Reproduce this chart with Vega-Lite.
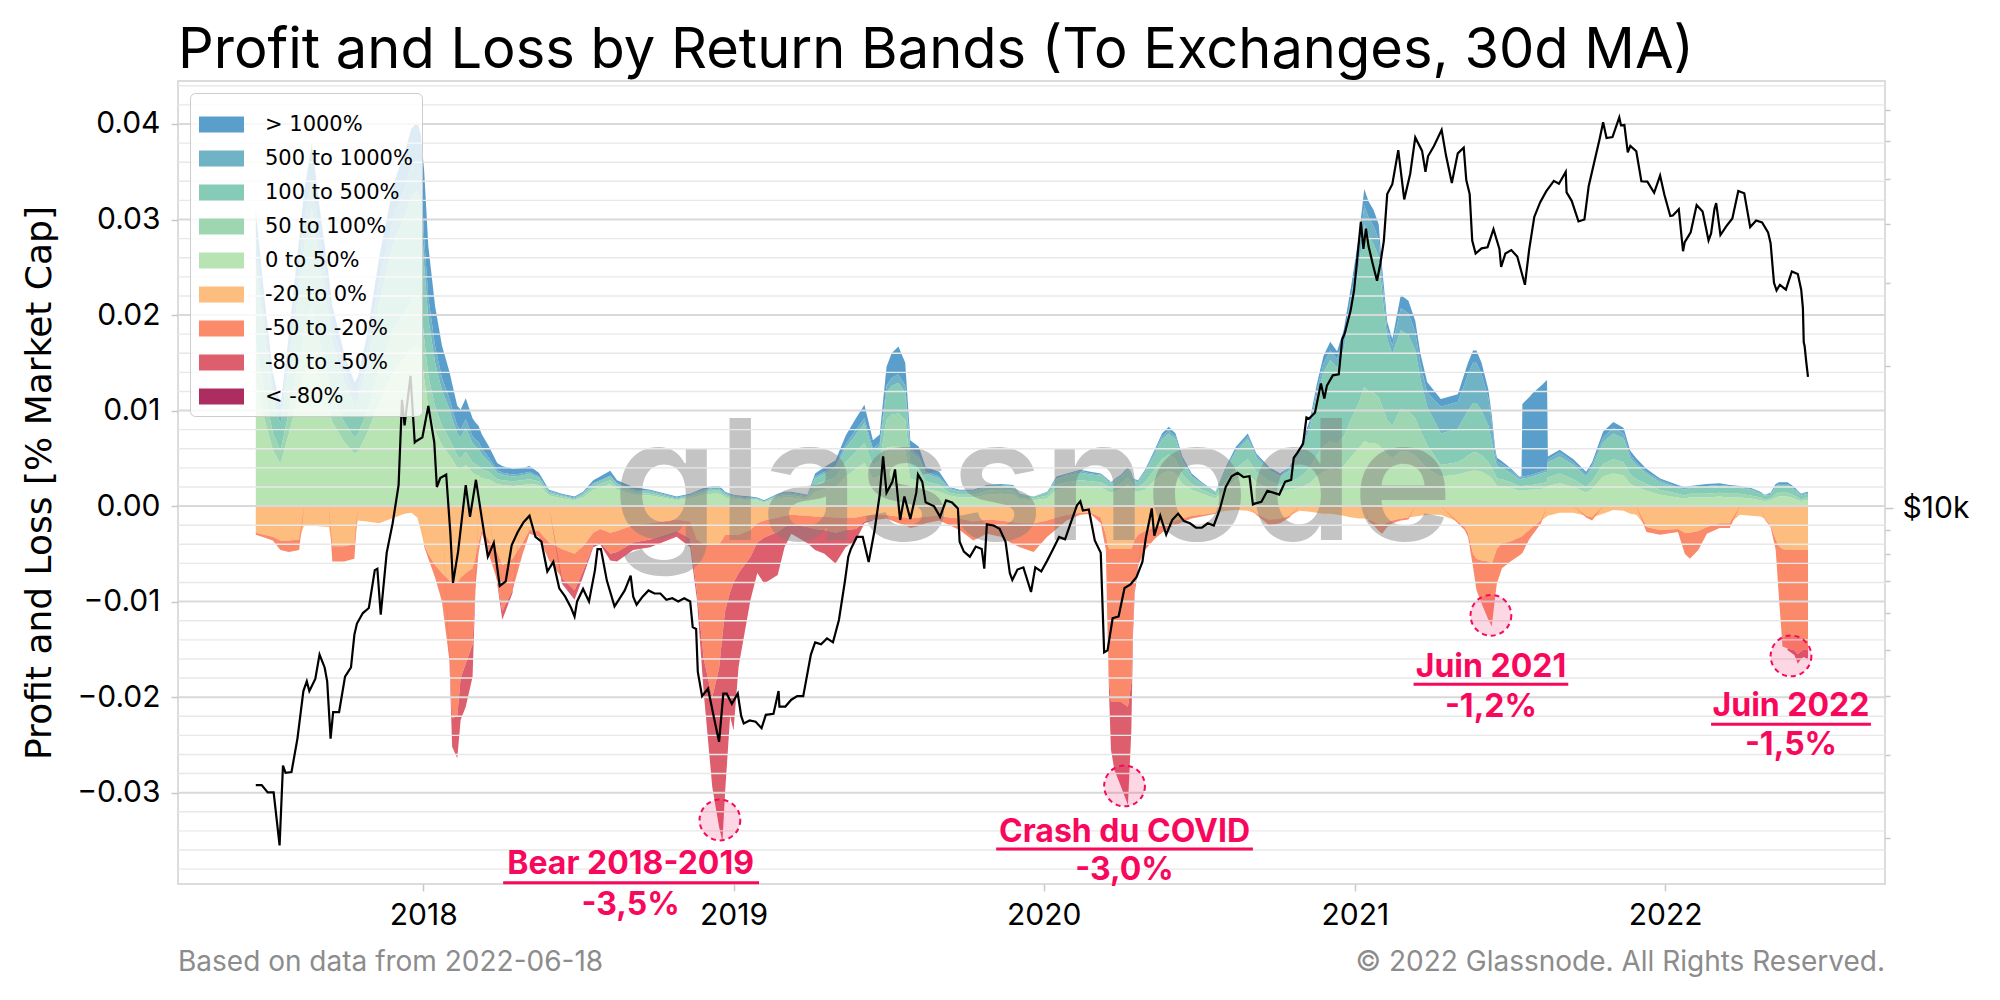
{
  "$schema": "https://vega.github.io/schema/vega-lite/v6.json",
  "width": 1707,
  "height": 803,
  "autosize": {"type": "none"},
  "padding": {"left": 178, "top": 81, "right": 115, "bottom": 116},
  "background": "#ffffff",
  "config": {
    "font": "Inter",
    "view": {"stroke": "#dcdcdc", "strokeWidth": 2},
    "axis": {"domain": false, "labelFont": "Inter", "labelFontSize": 30, "labelColor": "#000000", "tickColor": "#c8c8c8", "tickWidth": 1.5, "labelOverlap": false}
  },
  "title": {
    "text": "Profit and Loss by Return Bands (To Exchanges, 30d MA)",
    "anchor": "start",
    "frame": "group",
    "font": "Inter",
    "fontSize": 56,
    "fontWeight": 400,
    "color": "#000000",
    "baseline": "alphabetic",
    "offset": 14,
    "dy": 57
  },
  "datasets": {
    "bands": [
      {"d":"2017-06-18","p1":0.013,"p2":0.004,"p3":0.0084,"p4":0.0025,"p5":0.0031,"n1":-0.0028,"n2":-0.0002,"n3":0},
      {"d":"2017-06-28","p1":0.0092,"p2":0.0029,"p3":0.0059,"p4":0.0018,"p5":0.0022,"n1":-0.003,"n2":-0.0003,"n3":0},
      {"d":"2017-07-08","p1":0.0059,"p2":0.0018,"p3":0.0038,"p4":0.0011,"p5":0.0014,"n1":-0.0032,"n2":-0.0004,"n3":0},
      {"d":"2017-07-17","p1":0.0044,"p2":0.0014,"p3":0.0028,"p4":0.0008,"p5":0.0011,"n1":-0.0036,"n2":-0.001,"n3":0},
      {"d":"2017-07-27","p1":0.0076,"p2":0.0023,"p3":0.0049,"p4":0.0014,"p5":0.0018,"n1":-0.0036,"n2":-0.0012,"n3":0},
      {"d":"2017-08-08","p1":0.0118,"p2":0.0036,"p3":0.0076,"p4":0.0022,"p5":0.0028,"n1":-0.0035,"n2":-0.0011,"n3":0},
      {"d":"2017-08-14","p1":0.0139,"p2":0.0043,"p3":0.0089,"p4":0.0026,"p5":0.0033,"n1":-0.002,"n2":0,"n3":0},
      {"d":"2017-08-23","p1":0.016,"p2":0.0049,"p3":0.0103,"p4":0.003,"p5":0.0038,"n1":-0.002,"n2":0,"n3":0},
      {"d":"2017-08-31","p1":0.0134,"p2":0.0042,"p3":0.0086,"p4":0.0026,"p5":0.0032,"n1":-0.0021,"n2":0,"n3":0},
      {"d":"2017-09-12","p1":0.0101,"p2":0.0031,"p3":0.0065,"p4":0.0019,"p5":0.0024,"n1":-0.0022,"n2":0,"n3":0},
      {"d":"2017-09-16","p1":0.0088,"p2":0.0027,"p3":0.0057,"p4":0.0017,"p5":0.0021,"n1":-0.0042,"n2":-0.0016,"n3":0},
      {"d":"2017-09-30","p1":0.0067,"p2":0.0021,"p3":0.0043,"p4":0.0013,"p5":0.0016,"n1":-0.0042,"n2":-0.0016,"n3":0},
      {"d":"2017-10-12","p1":0.0055,"p2":0.0017,"p3":0.0035,"p4":0.001,"p5":0.0013,"n1":-0.004,"n2":-0.0015,"n3":0},
      {"d":"2017-10-16","p1":0.0057,"p2":0.0018,"p3":0.0036,"p4":0.0011,"p5":0.0013,"n1":-0.0015,"n2":0,"n3":0},
      {"d":"2017-10-27","p1":0.0076,"p2":0.0023,"p3":0.0049,"p4":0.0014,"p5":0.0018,"n1":-0.0016,"n2":0,"n3":0},
      {"d":"2017-11-10","p1":0.0109,"p2":0.0034,"p3":0.007,"p4":0.0021,"p5":0.0026,"n1":-0.0018,"n2":0,"n3":0},
      {"d":"2017-11-28","p1":0.0143,"p2":0.0044,"p3":0.0092,"p4":0.0027,"p5":0.0034,"n1":-0.0012,"n2":0,"n3":0},
      {"d":"2017-12-10","p1":0.0155,"p2":0.0048,"p3":0.01,"p4":0.003,"p5":0.0037,"n1":-0.0008,"n2":0,"n3":0},
      {"d":"2017-12-18","p1":0.0166,"p2":0.0051,"p3":0.0107,"p4":0.0032,"p5":0.0039,"n1":-0.0007,"n2":0,"n3":0},
      {"d":"2017-12-25","p1":0.0169,"p2":0.0052,"p3":0.0109,"p4":0.0032,"p5":0.004,"n1":-0.0012,"n2":0,"n3":0},
      {"d":"2017-12-29","p1":0.0164,"p2":0.0051,"p3":0.0105,"p4":0.0031,"p5":0.0039,"n1":-0.0025,"n2":0,"n3":0},
      {"d":"2018-01-02","p1":0.0134,"p2":0.0042,"p3":0.0077,"p4":0.0028,"p5":0.0071,"n1":-0.004,"n2":-0.0002,"n3":0},
      {"d":"2018-01-07","p1":0.0103,"p2":0.0033,"p3":0.006,"p4":0.0022,"p5":0.0054,"n1":-0.005,"n2":-0.0005,"n3":0},
      {"d":"2018-01-15","p1":0.0079,"p2":0.0025,"p3":0.0046,"p4":0.0017,"p5":0.0042,"n1":-0.0062,"n2":-0.0013,"n3":0},
      {"d":"2018-01-23","p1":0.0064,"p2":0.002,"p3":0.0037,"p4":0.0013,"p5":0.0034,"n1":-0.007,"n2":-0.003,"n3":0},
      {"d":"2018-02-01","p1":0.0053,"p2":0.0017,"p3":0.0031,"p4":0.0011,"p5":0.0028,"n1":-0.0078,"n2":-0.0085,"n3":-0.0005},
      {"d":"2018-02-04","p1":0.0049,"p2":0.0015,"p3":0.0028,"p4":0.001,"p5":0.0026,"n1":-0.008,"n2":-0.0142,"n3":-0.003},
      {"d":"2018-02-10","p1":0.004,"p2":0.0013,"p3":0.0023,"p4":0.0008,"p5":0.0021,"n1":-0.008,"n2":-0.014,"n3":-0.0044},
      {"d":"2018-02-14","p1":0.0038,"p2":0.0012,"p3":0.0022,"p4":0.0008,"p5":0.0021,"n1":-0.0075,"n2":-0.0105,"n3":-0.0044},
      {"d":"2018-02-20","p1":0.0043,"p2":0.0014,"p3":0.0025,"p4":0.0009,"p5":0.0022,"n1":-0.007,"n2":-0.0095,"n3":-0.0045},
      {"d":"2018-02-28","p1":0.0035,"p2":0.0011,"p3":0.002,"p4":0.0007,"p5":0.0019,"n1":-0.0065,"n2":-0.008,"n3":-0.0034},
      {"d":"2018-03-03","p1":0.0033,"p2":0.0011,"p3":0.0019,"p4":0.0007,"p5":0.0018,"n1":-0.0055,"n2":-0.0035,"n3":-0.0008},
      {"d":"2018-03-07","p1":0.0032,"p2":0.001,"p3":0.0018,"p4":0.0007,"p5":0.0017,"n1":-0.0038,"n2":-0.0012,"n3":0},
      {"d":"2018-03-11","p1":0.0029,"p2":0.0009,"p3":0.0016,"p4":0.0006,"p5":0.0015,"n1":-0.0025,"n2":-0.0004,"n3":0},
      {"d":"2018-03-19","p1":0.0028,"p2":0.0008,"p3":0.0011,"p4":0.0004,"p5":0.0012,"n1":-0.0035,"n2":-0.0015,"n3":0},
      {"d":"2018-03-29","p1":0.0023,"p2":0.0005,"p3":0.0007,"p4":0.0003,"p5":0.0007,"n1":-0.0048,"n2":-0.003,"n3":-0.0003},
      {"d":"2018-04-04","p1":0.0022,"p2":0.0005,"p3":0.0006,"p4":0.0002,"p5":0.0007,"n1":-0.0062,"n2":-0.0048,"n3":-0.0009},
      {"d":"2018-04-16","p1":0.0021,"p2":0.0005,"p3":0.0005,"p4":0.0002,"p5":0.0006,"n1":-0.0055,"n2":-0.0033,"n3":-0.0003},
      {"d":"2018-04-28","p1":0.0022,"p2":0.0005,"p3":0.0005,"p4":0.0002,"p5":0.0006,"n1":-0.0038,"n2":-0.0012,"n3":0},
      {"d":"2018-05-06","p1":0.0023,"p2":0.0005,"p3":0.0006,"p4":0.0002,"p5":0.0006,"n1":-0.0025,"n2":-0.0004,"n3":0},
      {"d":"2018-05-17","p1":0.0022,"p2":0.0004,"p3":0.0004,"p4":0.0001,"p5":0.0004,"n1":-0.0026,"n2":-0.0006,"n3":0},
      {"d":"2018-05-29","p1":0.0011,"p2":0.0002,"p3":0.0002,"p4":0.0001,"p5":0.0001,"n1":-0.0038,"n2":-0.0019,"n3":0},
      {"d":"2018-06-13","p1":0.0008,"p2":0.0002,"p3":0.0001,"p4":0.0001,"p5":0.0001,"n1":-0.0045,"n2":-0.003,"n3":-0.0006},
      {"d":"2018-06-28","p1":0.0006,"p2":0.0001,"p3":0.0001,"p4":0.0001,"p5":0.0001,"n1":-0.005,"n2":-0.0038,"n3":-0.001},
      {"d":"2018-07-08","p1":0.0009,"p2":0.0002,"p3":0.0002,"p4":0.0001,"p5":0.0001,"n1":-0.0042,"n2":-0.0026,"n3":-0.0006},
      {"d":"2018-07-20","p1":0.0017,"p2":0.0003,"p3":0.0003,"p4":0.0001,"p5":0.0003,"n1":-0.0028,"n2":-0.0013,"n3":-0.0002},
      {"d":"2018-07-28","p1":0.0019,"p2":0.0004,"p3":0.0003,"p4":0.0001,"p5":0.0004,"n1":-0.0024,"n2":-0.0014,"n3":-0.0002},
      {"d":"2018-08-09","p1":0.0023,"p2":0.0004,"p3":0.0004,"p4":0.0001,"p5":0.0005,"n1":-0.0028,"n2":-0.0022,"n3":-0.0007},
      {"d":"2018-08-17","p1":0.0017,"p2":0.0003,"p3":0.0003,"p4":0.0001,"p5":0.0003,"n1":-0.0026,"n2":-0.0022,"n3":-0.001},
      {"d":"2018-09-05","p1":0.0012,"p2":0.0002,"p3":0.0002,"p4":0.0001,"p5":0.0003,"n1":-0.002,"n2":-0.0018,"n3":-0.0008},
      {"d":"2018-09-25","p1":0.0011,"p2":0.0002,"p3":0.0002,"p4":0.0001,"p5":0.0001,"n1":-0.0018,"n2":-0.0017,"n3":-0.0008},
      {"d":"2018-10-26","p1":0.0006,"p2":0.0001,"p3":0.0001,"p4":0.0001,"p5":0.0001,"n1":-0.0014,"n2":-0.0012,"n3":-0.0006},
      {"d":"2018-11-11","p1":0.0008,"p2":0.0002,"p3":0.0001,"p4":0.0001,"p5":0.0001,"n1":-0.0016,"n2":-0.0018,"n3":-0.0009},
      {"d":"2018-11-19","p1":0.001,"p2":0.0002,"p3":0.0002,"p4":0.0001,"p5":0.0001,"n1":-0.0035,"n2":-0.0055,"n3":-0.0008},
      {"d":"2018-11-27","p1":0.0012,"p2":0.0002,"p3":0.0002,"p4":0.0001,"p5":0.0002,"n1":-0.004,"n2":-0.012,"n3":-0.0036},
      {"d":"2018-12-07","p1":0.0013,"p2":0.0003,"p3":0.0002,"p4":0.0001,"p5":0.0002,"n1":-0.004,"n2":-0.016,"n3":-0.0094},
      {"d":"2018-12-15","p1":0.0013,"p2":0.0003,"p3":0.0002,"p4":0.0001,"p5":0.0002,"n1":-0.004,"n2":-0.013,"n3":-0.0166},
      {"d":"2018-12-19","p1":0.0011,"p2":0.0002,"p3":0.0002,"p4":0.0001,"p5":0.0002,"n1":-0.0035,"n2":-0.01,"n3":-0.0216},
      {"d":"2018-12-22","p1":0.0009,"p2":0.0002,"p3":0.0002,"p4":0.0001,"p5":0.0001,"n1":-0.003,"n2":-0.008,"n3":-0.0191},
      {"d":"2018-12-28","p1":0.0008,"p2":0.0002,"p3":0.0001,"p4":0.0001,"p5":0.0001,"n1":-0.003,"n2":-0.006,"n3":-0.013},
      {"d":"2019-01-01","p1":0.0007,"p2":0.0002,"p3":0.0001,"p4":0.0001,"p5":0.0001,"n1":-0.003,"n2":-0.005,"n3":-0.0155},
      {"d":"2019-01-07","p1":0.0007,"p2":0.0001,"p3":0.0001,"p4":0.0001,"p5":0.0001,"n1":-0.003,"n2":-0.004,"n3":-0.0098},
      {"d":"2019-01-21","p1":0.0006,"p2":0.0001,"p3":0.0001,"p4":0.0001,"p5":0.0001,"n1":-0.0025,"n2":-0.0028,"n3":-0.0045},
      {"d":"2019-01-29","p1":0.0006,"p2":0.0001,"p3":0.0001,"p4":0,"p5":0.0001,"n1":-0.0018,"n2":-0.002,"n3":-0.0032},
      {"d":"2019-02-06","p1":0.0004,"p2":0.0001,"p3":0,"p4":0,"p5":0.0001,"n1":-0.0015,"n2":-0.0018,"n3":-0.0048},
      {"d":"2019-02-22","p1":0.0008,"p2":0.0002,"p3":0.0001,"p4":0.0001,"p5":0.0001,"n1":-0.0012,"n2":-0.0015,"n3":-0.0045},
      {"d":"2019-03-02","p1":0.0009,"p2":0.0002,"p3":0.0002,"p4":0.0001,"p5":0.0001,"n1":-0.001,"n2":-0.0012,"n3":-0.0021},
      {"d":"2019-03-10","p1":0.0009,"p2":0.0002,"p3":0.0002,"p4":0.0001,"p5":0.0001,"n1":-0.0009,"n2":-0.001,"n3":-0.001},
      {"d":"2019-03-29","p1":0.0007,"p2":0.0002,"p3":0.0001,"p4":0.0001,"p5":0.0001,"n1":-0.001,"n2":-0.0012,"n3":-0.0017},
      {"d":"2019-04-07","p1":0.0015,"p2":0.0007,"p3":0.0007,"p4":0.0002,"p5":0.0003,"n1":-0.0011,"n2":-0.0013,"n3":-0.0022},
      {"d":"2019-04-18","p1":0.0018,"p2":0.0008,"p3":0.0008,"p4":0.0002,"p5":0.0005,"n1":-0.0011,"n2":-0.0014,"n3":-0.0025},
      {"d":"2019-05-01","p1":0.002,"p2":0.001,"p3":0.001,"p4":0.0002,"p5":0.0006,"n1":-0.0012,"n2":-0.0016,"n3":-0.0032},
      {"d":"2019-05-13","p1":0.0031,"p2":0.0015,"p3":0.0015,"p4":0.0004,"p5":0.0009,"n1":-0.0012,"n2":-0.0013,"n3":-0.0018},
      {"d":"2019-05-25","p1":0.0039,"p2":0.0018,"p3":0.0018,"p4":0.0005,"p5":0.0012,"n1":-0.0012,"n2":-0.0012,"n3":-0.0012},
      {"d":"2019-06-04","p1":0.0045,"p2":0.0021,"p3":0.0021,"p4":0.0005,"p5":0.0014,"n1":-0.001,"n2":-0.0006,"n3":-0.0002},
      {"d":"2019-06-14","p1":0.0029,"p2":0.0014,"p3":0.0014,"p4":0.0003,"p5":0.0009,"n1":-0.0009,"n2":-0.0005,"n3":-0.0001},
      {"d":"2019-06-22","p1":0.0032,"p2":0.0015,"p3":0.0015,"p4":0.0004,"p5":0.0009,"n1":-0.0009,"n2":-0.0005,"n3":0},
      {"d":"2019-06-30","p1":0.0061,"p2":0.0029,"p3":0.0029,"p4":0.0007,"p5":0.002,"n1":-0.0009,"n2":-0.0004,"n3":0},
      {"d":"2019-07-06","p1":0.0062,"p2":0.0034,"p3":0.003,"p4":0.0008,"p5":0.0026,"n1":-0.001,"n2":-0.0005,"n3":0},
      {"d":"2019-07-14","p1":0.0062,"p2":0.0035,"p3":0.0032,"p4":0.0009,"p5":0.0029,"n1":-0.0011,"n2":-0.0007,"n3":0},
      {"d":"2019-07-22","p1":0.0058,"p2":0.0032,"p3":0.0029,"p4":0.0007,"p5":0.0024,"n1":-0.0012,"n2":-0.0008,"n3":0},
      {"d":"2019-07-28","p1":0.0029,"p2":0.0014,"p3":0.0014,"p4":0.0003,"p5":0.0009,"n1":-0.0013,"n2":-0.001,"n3":0},
      {"d":"2019-08-07","p1":0.0026,"p2":0.0012,"p3":0.0012,"p4":0.0003,"p5":0.0009,"n1":-0.0012,"n2":-0.0009,"n3":0},
      {"d":"2019-08-15","p1":0.0018,"p2":0.0008,"p3":0.0008,"p4":0.0002,"p5":0.0005,"n1":-0.0011,"n2":-0.0007,"n3":0},
      {"d":"2019-08-31","p1":0.0015,"p2":0.0007,"p3":0.0007,"p4":0.0002,"p5":0.0005,"n1":-0.001,"n2":-0.0005,"n3":0},
      {"d":"2019-09-12","p1":0.0011,"p2":0.0003,"p3":0.0004,"p4":0.0001,"p5":0.0001,"n1":-0.0012,"n2":-0.0008,"n3":0},
      {"d":"2019-09-24","p1":0.0009,"p2":0.0003,"p3":0.0003,"p4":0.0001,"p5":0.0001,"n1":-0.0013,"n2":-0.0012,"n3":0},
      {"d":"2019-10-10","p1":0.0009,"p2":0.0003,"p3":0.0003,"p4":0.0001,"p5":0.0001,"n1":-0.0016,"n2":-0.002,"n3":0},
      {"d":"2019-10-26","p1":0.0012,"p2":0.0004,"p3":0.0004,"p4":0.0001,"p5":0.0001,"n1":-0.0014,"n2":-0.0015,"n3":0},
      {"d":"2019-11-11","p1":0.0013,"p2":0.0004,"p3":0.0004,"p4":0.0001,"p5":0.0001,"n1":-0.0015,"n2":-0.0017,"n3":0},
      {"d":"2019-11-26","p1":0.0012,"p2":0.0004,"p3":0.0004,"p4":0.0001,"p5":0.0001,"n1":-0.0017,"n2":-0.0023,"n3":0},
      {"d":"2019-12-04","p1":0.0007,"p2":0.0002,"p3":0.0003,"p4":0.0001,"p5":0,"n1":-0.0018,"n2":-0.0025,"n3":0},
      {"d":"2019-12-20","p1":0.0006,"p2":0.0002,"p3":0.0002,"p4":0,"p5":0,"n1":-0.0018,"n2":-0.003,"n3":0},
      {"d":"2020-01-05","p1":0.0008,"p2":0.0003,"p3":0.0003,"p4":0.0001,"p5":0,"n1":-0.0015,"n2":-0.0017,"n3":0},
      {"d":"2020-01-16","p1":0.0017,"p2":0.0005,"p3":0.0006,"p4":0.0001,"p5":0.0002,"n1":-0.0012,"n2":-0.0012,"n3":0},
      {"d":"2020-01-28","p1":0.0019,"p2":0.0006,"p3":0.0007,"p4":0.0001,"p5":0.0001,"n1":-0.0009,"n2":-0.0006,"n3":0},
      {"d":"2020-02-13","p1":0.0021,"p2":0.0006,"p3":0.0008,"p4":0.0002,"p5":0.0001,"n1":-0.0007,"n2":-0.0002,"n3":0},
      {"d":"2020-02-25","p1":0.002,"p2":0.0006,"p3":0.0007,"p4":0.0001,"p5":0.0002,"n1":-0.0007,"n2":-0.0001,"n3":0},
      {"d":"2020-03-08","p1":0.0019,"p2":0.0006,"p3":0.0007,"p4":0.0001,"p5":0.0001,"n1":-0.0012,"n2":-0.0006,"n3":0},
      {"d":"2020-03-14","p1":0.0017,"p2":0.0005,"p3":0.0006,"p4":0.0001,"p5":0.0001,"n1":-0.003,"n2":-0.0016,"n3":0},
      {"d":"2020-03-16","p1":0.0015,"p2":0.0005,"p3":0.0006,"p4":0.0001,"p5":0.0001,"n1":-0.004,"n2":-0.009,"n3":-0.0003},
      {"d":"2020-03-18","p1":0.0015,"p2":0.0005,"p3":0.0005,"p4":0.0001,"p5":0.0001,"n1":-0.0045,"n2":-0.014,"n3":-0.0018},
      {"d":"2020-03-20","p1":0.0014,"p2":0.0004,"p3":0.0005,"p4":0.0001,"p5":0.0001,"n1":-0.0045,"n2":-0.016,"n3":-0.005},
      {"d":"2020-03-24","p1":0.0015,"p2":0.0005,"p3":0.0006,"p4":0.0001,"p5":0.0001,"n1":-0.0045,"n2":-0.016,"n3":-0.0071},
      {"d":"2020-04-01","p1":0.0018,"p2":0.0006,"p3":0.0007,"p4":0.0001,"p5":0.0001,"n1":-0.0045,"n2":-0.016,"n3":-0.0089},
      {"d":"2020-04-09","p1":0.0023,"p2":0.0007,"p3":0.0008,"p4":0.0002,"p5":0.0001,"n1":-0.0045,"n2":-0.0165,"n3":-0.0103},
      {"d":"2020-04-13","p1":0.0019,"p2":0.0006,"p3":0.0007,"p4":0.0001,"p5":0.0002,"n1":-0.0045,"n2":-0.014,"n3":-0.005},
      {"d":"2020-04-15","p1":0.0017,"p2":0.0005,"p3":0.0006,"p4":0.0001,"p5":0.0001,"n1":-0.004,"n2":-0.008,"n3":-0.0013},
      {"d":"2020-04-17","p1":0.0015,"p2":0.0005,"p3":0.0006,"p4":0.0001,"p5":0.0001,"n1":-0.0035,"n2":-0.005,"n3":-0.0006},
      {"d":"2020-04-21","p1":0.0015,"p2":0.0005,"p3":0.0005,"p4":0.0001,"p5":0.0001,"n1":-0.003,"n2":-0.0032,"n3":-0.0002},
      {"d":"2020-04-29","p1":0.0017,"p2":0.0008,"p3":0.001,"p4":0.0002,"p5":0.0001,"n1":-0.0026,"n2":-0.002,"n3":0},
      {"d":"2020-05-11","p1":0.0027,"p2":0.0012,"p3":0.0016,"p4":0.0003,"p5":0.0002,"n1":-0.0022,"n2":-0.0012,"n3":0},
      {"d":"2020-05-19","p1":0.0034,"p2":0.0015,"p3":0.0021,"p4":0.0003,"p5":0.0003,"n1":-0.002,"n2":-0.0008,"n3":0},
      {"d":"2020-05-27","p1":0.0037,"p2":0.0017,"p3":0.0022,"p4":0.0003,"p5":0.0004,"n1":-0.0017,"n2":-0.0006,"n3":0},
      {"d":"2020-06-04","p1":0.0034,"p2":0.0015,"p3":0.0021,"p4":0.0003,"p5":0.0003,"n1":-0.0015,"n2":-0.0005,"n3":0},
      {"d":"2020-06-12","p1":0.0023,"p2":0.001,"p3":0.0014,"p4":0.0002,"p5":0.0003,"n1":-0.0013,"n2":-0.0004,"n3":0},
      {"d":"2020-06-23","p1":0.0017,"p2":0.0006,"p3":0.0008,"p4":0.0001,"p5":0.0002,"n1":-0.001,"n2":-0.0003,"n3":0},
      {"d":"2020-07-05","p1":0.0013,"p2":0.0004,"p3":0.0006,"p4":0.0001,"p5":0.0001,"n1":-0.0009,"n2":-0.0002,"n3":0},
      {"d":"2020-07-21","p1":0.0008,"p2":0.0003,"p3":0.0003,"p4":0.0001,"p5":0,"n1":-0.0007,"n2":-0.0001,"n3":0},
      {"d":"2020-08-02","p1":0.0018,"p2":0.0008,"p3":0.0011,"p4":0.0002,"p5":0.0002,"n1":-0.0005,"n2":0,"n3":0},
      {"d":"2020-08-14","p1":0.0028,"p2":0.0012,"p3":0.0017,"p4":0.0002,"p5":0.0003,"n1":-0.0004,"n2":0,"n3":0},
      {"d":"2020-08-28","p1":0.0034,"p2":0.0015,"p3":0.0021,"p4":0.0003,"p5":0.0003,"n1":-0.0005,"n2":0,"n3":0},
      {"d":"2020-09-07","p1":0.0025,"p2":0.0011,"p3":0.0015,"p4":0.0002,"p5":0.0002,"n1":-0.0008,"n2":-0.0001,"n3":0},
      {"d":"2020-09-22","p1":0.0018,"p2":0.0008,"p3":0.0011,"p4":0.0002,"p5":0.0002,"n1":-0.0014,"n2":-0.0006,"n3":0},
      {"d":"2020-10-05","p1":0.0015,"p2":0.0007,"p3":0.0009,"p4":0.0001,"p5":0.0002,"n1":-0.0013,"n2":-0.0005,"n3":0},
      {"d":"2020-10-16","p1":0.0017,"p2":0.0008,"p3":0.0012,"p4":0.0002,"p5":0.0002,"n1":-0.001,"n2":-0.0002,"n3":0},
      {"d":"2020-10-28","p1":0.0019,"p2":0.0011,"p3":0.0024,"p4":0.0003,"p5":0.0003,"n1":-0.0005,"n2":0,"n3":0},
      {"d":"2020-11-09","p1":0.0024,"p2":0.0016,"p3":0.0041,"p4":0.0005,"p5":0.0004,"n1":-0.0006,"n2":0,"n3":0},
      {"d":"2020-11-17","p1":0.0031,"p2":0.0022,"p3":0.0061,"p4":0.0007,"p5":0.0006,"n1":-0.0007,"n2":0,"n3":0},
      {"d":"2020-11-25","p1":0.0036,"p2":0.0027,"p3":0.0077,"p4":0.0009,"p5":0.0008,"n1":-0.0008,"n2":0,"n3":0},
      {"d":"2020-12-03","p1":0.0039,"p2":0.0029,"p3":0.0085,"p4":0.001,"p5":0.0009,"n1":-0.0008,"n2":0,"n3":0},
      {"d":"2020-12-11","p1":0.0037,"p2":0.0028,"p3":0.008,"p4":0.0009,"p5":0.0008,"n1":-0.0009,"n2":0,"n3":0},
      {"d":"2020-12-19","p1":0.0042,"p2":0.0031,"p3":0.0092,"p4":0.0011,"p5":0.0009,"n1":-0.001,"n2":0,"n3":0},
      {"d":"2020-12-28","p1":0.0052,"p2":0.004,"p3":0.0116,"p4":0.0014,"p5":0.0011,"n1":-0.0012,"n2":0,"n3":0},
      {"d":"2021-01-06","p1":0.0061,"p2":0.0048,"p3":0.0143,"p4":0.0017,"p5":0.0016,"n1":-0.0013,"n2":0,"n3":0},
      {"d":"2021-01-12","p1":0.0068,"p2":0.0057,"p3":0.017,"p4":0.002,"p5":0.0017,"n1":-0.0013,"n2":0,"n3":0},
      {"d":"2021-01-17","p1":0.0066,"p2":0.0054,"p3":0.0163,"p4":0.0019,"p5":0.0017,"n1":-0.0014,"n2":-0.0002,"n3":0},
      {"d":"2021-01-23","p1":0.0066,"p2":0.0053,"p3":0.0155,"p4":0.0019,"p5":0.0017,"n1":-0.0016,"n2":-0.0004,"n3":0},
      {"d":"2021-01-29","p1":0.0064,"p2":0.005,"p3":0.0147,"p4":0.0018,"p5":0.0016,"n1":-0.0019,"n2":-0.0007,"n3":0},
      {"d":"2021-02-02","p1":0.006,"p2":0.0044,"p3":0.0119,"p4":0.0015,"p5":0.0012,"n1":-0.002,"n2":-0.0009,"n3":0},
      {"d":"2021-02-08","p1":0.0054,"p2":0.0036,"p3":0.0085,"p4":0.0011,"p5":0.0007,"n1":-0.0017,"n2":-0.0005,"n3":0},
      {"d":"2021-02-14","p1":0.005,"p2":0.0034,"p3":0.0075,"p4":0.0009,"p5":0.0007,"n1":-0.0015,"n2":-0.0003,"n3":0},
      {"d":"2021-02-24","p1":0.0058,"p2":0.0044,"p3":0.0082,"p4":0.0023,"p5":0.0014,"n1":-0.0013,"n2":-0.0002,"n3":0},
      {"d":"2021-03-05","p1":0.0057,"p2":0.0042,"p3":0.008,"p4":0.0023,"p5":0.0013,"n1":-0.0012,"n2":-0.0002,"n3":0},
      {"d":"2021-03-13","p1":0.0053,"p2":0.0039,"p3":0.0071,"p4":0.0019,"p5":0.0012,"n1":-0.0011,"n2":0,"n3":0},
      {"d":"2021-03-19","p1":0.0047,"p2":0.0032,"p3":0.0054,"p4":0.0016,"p5":0.0011,"n1":-0.001,"n2":0,"n3":0},
      {"d":"2021-03-27","p1":0.0039,"p2":0.0025,"p3":0.004,"p4":0.0015,"p5":0.0011,"n1":-0.0009,"n2":0,"n3":0},
      {"d":"2021-04-12","p1":0.0031,"p2":0.0012,"p3":0.0033,"p4":0.0028,"p5":0.0008,"n1":-0.0009,"n2":0,"n3":0},
      {"d":"2021-05-02","p1":0.0033,"p2":0.0013,"p3":0.0035,"p4":0.0028,"p5":0.0008,"n1":-0.0016,"n2":-0.0002,"n3":0},
      {"d":"2021-05-10","p1":0.0035,"p2":0.0015,"p3":0.0044,"p4":0.0034,"p5":0.0011,"n1":-0.0022,"n2":-0.0003,"n3":0},
      {"d":"2021-05-14","p1":0.0036,"p2":0.0017,"p3":0.0047,"p4":0.0038,"p5":0.0012,"n1":-0.0028,"n2":-0.0004,"n3":0},
      {"d":"2021-05-20","p1":0.0037,"p2":0.0019,"p3":0.0052,"p4":0.0042,"p5":0.0013,"n1":-0.005,"n2":-0.0014,"n3":0},
      {"d":"2021-05-24","p1":0.0037,"p2":0.0019,"p3":0.0052,"p4":0.0042,"p5":0.0013,"n1":-0.0055,"n2":-0.0033,"n3":0},
      {"d":"2021-05-30","p1":0.0036,"p2":0.0017,"p3":0.0047,"p4":0.0038,"p5":0.0012,"n1":-0.0057,"n2":-0.0045,"n3":0},
      {"d":"2021-06-07","p1":0.0032,"p2":0.0014,"p3":0.0038,"p4":0.0029,"p5":0.0009,"n1":-0.0058,"n2":-0.0061,"n3":0},
      {"d":"2021-06-11","p1":0.0029,"p2":0.0011,"p3":0.0028,"p4":0.002,"p5":0.0007,"n1":-0.006,"n2":-0.0066,"n3":0},
      {"d":"2021-06-15","p1":0.0024,"p2":0.0009,"p3":0.0016,"p4":0.0007,"p5":0.0004,"n1":-0.005,"n2":-0.0045,"n3":0},
      {"d":"2021-06-17","p1":0.0021,"p2":0.0008,"p3":0.0013,"p4":0.0005,"p5":0.0004,"n1":-0.0045,"n2":-0.0036,"n3":0},
      {"d":"2021-06-23","p1":0.0021,"p2":0.0007,"p3":0.0012,"p4":0.0004,"p5":0.0003,"n1":-0.0039,"n2":-0.0026,"n3":0},
      {"d":"2021-07-03","p1":0.0019,"p2":0.0006,"p3":0.001,"p4":0.0003,"p5":0.0002,"n1":-0.0037,"n2":-0.0021,"n3":0},
      {"d":"2021-07-13","p1":0.0016,"p2":0.0005,"p3":0.0007,"p4":0.0002,"p5":0.0001,"n1":-0.0033,"n2":-0.0019,"n3":0},
      {"d":"2021-07-16","p1":0.0016,"p2":0.0005,"p3":0.0007,"p4":0.0002,"p5":0.0001,"n1":-0.0032,"n2":-0.0018,"n3":0},
      {"d":"2021-07-17","p1":0.0016,"p2":0.0005,"p3":0.0008,"p4":0.0002,"p5":0.0076,"n1":-0.0031,"n2":-0.0018,"n3":0},
      {"d":"2021-07-25","p1":0.0017,"p2":0.0005,"p3":0.0008,"p4":0.0002,"p5":0.0082,"n1":-0.0025,"n2":-0.001,"n3":0},
      {"d":"2021-07-29","p1":0.0017,"p2":0.0005,"p3":0.0009,"p4":0.0002,"p5":0.0085,"n1":-0.0022,"n2":-0.0008,"n3":0},
      {"d":"2021-08-08","p1":0.0018,"p2":0.0006,"p3":0.001,"p4":0.0002,"p5":0.009,"n1":-0.0015,"n2":-0.0003,"n3":0},
      {"d":"2021-08-15","p1":0.0019,"p2":0.0006,"p3":0.0011,"p4":0.0002,"p5":0.0094,"n1":-0.0011,"n2":0,"n3":0},
      {"d":"2021-08-16","p1":0.0021,"p2":0.0009,"p3":0.0016,"p4":0.0003,"p5":0.0003,"n1":-0.001,"n2":0,"n3":0},
      {"d":"2021-08-30","p1":0.0024,"p2":0.001,"p3":0.0018,"p4":0.0004,"p5":0.0003,"n1":-0.0007,"n2":0,"n3":0},
      {"d":"2021-09-15","p1":0.002,"p2":0.0008,"p3":0.0015,"p4":0.0003,"p5":0.0003,"n1":-0.0007,"n2":0,"n3":0},
      {"d":"2021-09-30","p1":0.0014,"p2":0.0006,"p3":0.0011,"p4":0.0002,"p5":0.0003,"n1":-0.001,"n2":-0.0002,"n3":0},
      {"d":"2021-10-07","p1":0.0018,"p2":0.0008,"p3":0.0014,"p4":0.0003,"p5":0.0003,"n1":-0.0012,"n2":-0.0003,"n3":0},
      {"d":"2021-10-20","p1":0.0031,"p2":0.0013,"p3":0.0023,"p4":0.0005,"p5":0.0006,"n1":-0.0008,"n2":0,"n3":0},
      {"d":"2021-11-01","p1":0.0034,"p2":0.0015,"p3":0.0027,"p4":0.0006,"p5":0.0006,"n1":-0.0004,"n2":0,"n3":0},
      {"d":"2021-11-13","p1":0.0032,"p2":0.0014,"p3":0.0025,"p4":0.0005,"p5":0.0006,"n1":-0.0005,"n2":0,"n3":0},
      {"d":"2021-11-21","p1":0.0023,"p2":0.001,"p3":0.0017,"p4":0.0004,"p5":0.0004,"n1":-0.0008,"n2":0,"n3":0},
      {"d":"2021-11-28","p1":0.002,"p2":0.0008,"p3":0.0015,"p4":0.0003,"p5":0.0004,"n1":-0.0009,"n2":0,"n3":0},
      {"d":"2021-12-10","p1":0.0016,"p2":0.0007,"p3":0.0011,"p4":0.0002,"p5":0.0003,"n1":-0.0022,"n2":-0.0005,"n3":0},
      {"d":"2021-12-26","p1":0.0012,"p2":0.0005,"p3":0.0008,"p4":0.0002,"p5":0.0002,"n1":-0.0025,"n2":-0.0005,"n3":0},
      {"d":"2022-01-16","p1":0.0009,"p2":0.0004,"p3":0.0006,"p4":0.0001,"p5":0.0002,"n1":-0.0024,"n2":-0.0003,"n3":0},
      {"d":"2022-01-24","p1":0.0008,"p2":0.0003,"p3":0.0006,"p4":0.0001,"p5":0.0002,"n1":-0.0028,"n2":-0.0022,"n3":0},
      {"d":"2022-01-30","p1":0.0009,"p2":0.0004,"p3":0.0006,"p4":0.0001,"p5":0.0001,"n1":-0.0028,"n2":-0.0027,"n3":0},
      {"d":"2022-02-09","p1":0.0009,"p2":0.0004,"p3":0.0007,"p4":0.0001,"p5":0.0001,"n1":-0.0026,"n2":-0.002,"n3":0},
      {"d":"2022-02-19","p1":0.0009,"p2":0.0004,"p3":0.0007,"p4":0.0001,"p5":0.0002,"n1":-0.0022,"n2":-0.0007,"n3":0},
      {"d":"2022-03-06","p1":0.001,"p2":0.0004,"p3":0.0007,"p4":0.0001,"p5":0.0002,"n1":-0.0018,"n2":-0.0005,"n3":0},
      {"d":"2022-03-18","p1":0.0009,"p2":0.0004,"p3":0.0007,"p4":0.0001,"p5":0.0001,"n1":-0.0018,"n2":-0.0005,"n3":0},
      {"d":"2022-03-30","p1":0.0009,"p2":0.0004,"p3":0.0006,"p4":0.0001,"p5":0.0001,"n1":-0.0009,"n2":0,"n3":0},
      {"d":"2022-04-12","p1":0.0008,"p2":0.0003,"p3":0.0006,"p4":0.0001,"p5":0.0001,"n1":-0.001,"n2":0,"n3":0},
      {"d":"2022-04-23","p1":0.0006,"p2":0.0003,"p3":0.0004,"p4":0.0001,"p5":0.0001,"n1":-0.0011,"n2":0,"n3":0},
      {"d":"2022-04-28","p1":0.0005,"p2":0.0002,"p3":0.0004,"p4":0.0001,"p5":0,"n1":-0.0013,"n2":-0.0001,"n3":0},
      {"d":"2022-05-05","p1":0.0006,"p2":0.0002,"p3":0.0004,"p4":0.0001,"p5":0.0001,"n1":-0.002,"n2":-0.0002,"n3":0},
      {"d":"2022-05-11","p1":0.0009,"p2":0.0004,"p3":0.0007,"p4":0.0001,"p5":0.0002,"n1":-0.0035,"n2":-0.0011,"n3":0},
      {"d":"2022-05-15","p1":0.001,"p2":0.0004,"p3":0.0008,"p4":0.0001,"p5":0.0002,"n1":-0.0042,"n2":-0.0056,"n3":0},
      {"d":"2022-05-19","p1":0.001,"p2":0.0004,"p3":0.0008,"p4":0.0001,"p5":0.0002,"n1":-0.0045,"n2":-0.0102,"n3":0},
      {"d":"2022-05-25","p1":0.001,"p2":0.0004,"p3":0.0008,"p4":0.0001,"p5":0.0002,"n1":-0.0046,"n2":-0.0103,"n3":-0.0002},
      {"d":"2022-06-02","p1":0.0008,"p2":0.0003,"p3":0.0006,"p4":0.0001,"p5":0.0002,"n1":-0.0046,"n2":-0.0105,"n3":-0.0005},
      {"d":"2022-06-06","p1":0.0006,"p2":0.0003,"p3":0.0005,"p4":0.0001,"p5":0.0001,"n1":-0.0046,"n2":-0.0109,"n3":-0.001},
      {"d":"2022-06-10","p1":0.0005,"p2":0.0002,"p3":0.0004,"p4":0.0001,"p5":0.0001,"n1":-0.0046,"n2":-0.0106,"n3":-0.0008},
      {"d":"2022-06-13","p1":0.0006,"p2":0.0002,"p3":0.0004,"p4":0.0001,"p5":0.0001,"n1":-0.0046,"n2":-0.0104,"n3":-0.0008},
      {"d":"2022-06-18","p1":0.0006,"p2":0.0003,"p3":0.0004,"p4":0.0001,"p5":0.0001,"n1":-0.0046,"n2":-0.0105,"n3":-0.001}
    ],
    "price": [
      {"d":"2017-06-18","price":2590},{"d":"2017-06-25","price":2590},{"d":"2017-07-02","price":2500},{"d":"2017-07-09","price":2500},
      {"d":"2017-07-16","price":1930},{"d":"2017-07-20","price":2850},{"d":"2017-07-23","price":2750},{"d":"2017-07-30","price":2760},
      {"d":"2017-08-06","price":3250},{"d":"2017-08-13","price":4100},{"d":"2017-08-17","price":4300},{"d":"2017-08-20","price":4100},
      {"d":"2017-08-27","price":4350},{"d":"2017-09-01","price":4900},{"d":"2017-09-07","price":4600},{"d":"2017-09-10","price":4300},
      {"d":"2017-09-14","price":3250},{"d":"2017-09-17","price":3700},{"d":"2017-09-24","price":3700},{"d":"2017-10-01","price":4400},
      {"d":"2017-10-08","price":4600},{"d":"2017-10-12","price":5400},{"d":"2017-10-15","price":5700},{"d":"2017-10-22","price":6000},
      {"d":"2017-10-29","price":6150},{"d":"2017-11-05","price":7400},{"d":"2017-11-08","price":7450},{"d":"2017-11-12","price":5950},
      {"d":"2017-11-19","price":8050},{"d":"2017-11-26","price":9300},{"d":"2017-12-03","price":11200},{"d":"2017-12-07","price":17000},
      {"d":"2017-12-10","price":15000},{"d":"2017-12-17","price":19100},{"d":"2017-12-22","price":13800},{"d":"2017-12-24","price":13900},
      {"d":"2017-12-31","price":14150},{"d":"2018-01-07","price":16500},{"d":"2018-01-14","price":13800},{"d":"2018-01-17","price":11100},
      {"d":"2018-01-21","price":11600},{"d":"2018-01-28","price":11800},{"d":"2018-02-02","price":8800},{"d":"2018-02-05","price":6950},
      {"d":"2018-02-11","price":8100},{"d":"2018-02-20","price":11200},{"d":"2018-02-25","price":9600},{"d":"2018-03-04","price":11500},
      {"d":"2018-03-11","price":9500},{"d":"2018-03-18","price":7900},{"d":"2018-03-25","price":8450},{"d":"2018-04-01","price":6850},
      {"d":"2018-04-08","price":7000},{"d":"2018-04-15","price":8350},{"d":"2018-04-22","price":8900},{"d":"2018-04-29","price":9350},
      {"d":"2018-05-06","price":9650},{"d":"2018-05-13","price":8700},{"d":"2018-05-20","price":8500},{"d":"2018-05-27","price":7350},
      {"d":"2018-06-03","price":7700},{"d":"2018-06-10","price":6770},{"d":"2018-06-17","price":6500},{"d":"2018-06-24","price":6150},
      {"d":"2018-06-28","price":5900},{"d":"2018-07-01","price":6350},{"d":"2018-07-08","price":6750},{"d":"2018-07-15","price":6350},
      {"d":"2018-07-22","price":7400},{"d":"2018-07-25","price":8200},{"d":"2018-07-29","price":8200},{"d":"2018-08-05","price":7030},
      {"d":"2018-08-14","price":6200},{"d":"2018-08-19","price":6400},{"d":"2018-08-26","price":6700},{"d":"2018-09-02","price":7200},
      {"d":"2018-09-05","price":6500},{"d":"2018-09-09","price":6250},{"d":"2018-09-16","price":6500},{"d":"2018-09-23","price":6700},
      {"d":"2018-09-30","price":6600},{"d":"2018-10-07","price":6600},{"d":"2018-10-14","price":6400},{"d":"2018-10-21","price":6450},
      {"d":"2018-10-28","price":6350},{"d":"2018-11-04","price":6450},{"d":"2018-11-11","price":6350},{"d":"2018-11-14","price":5600},
      {"d":"2018-11-18","price":5550},{"d":"2018-11-20","price":4500},{"d":"2018-11-25","price":4000},{"d":"2018-12-02","price":4150},
      {"d":"2018-12-09","price":3600},{"d":"2018-12-15","price":3200},{"d":"2018-12-20","price":4050},{"d":"2018-12-24","price":4050},
      {"d":"2018-12-30","price":3850},{"d":"2019-01-06","price":4050},{"d":"2019-01-10","price":3630},{"d":"2019-01-13","price":3500},
      {"d":"2019-01-20","price":3550},{"d":"2019-01-27","price":3530},{"d":"2019-02-03","price":3420},{"d":"2019-02-08","price":3650},
      {"d":"2019-02-17","price":3670},{"d":"2019-02-23","price":4100},{"d":"2019-02-24","price":3800},{"d":"2019-03-03","price":3800},
      {"d":"2019-03-10","price":3930},{"d":"2019-03-17","price":4000},{"d":"2019-03-24","price":4000},{"d":"2019-04-02","price":4900},
      {"d":"2019-04-07","price":5200},{"d":"2019-04-14","price":5150},{"d":"2019-04-21","price":5300},{"d":"2019-04-28","price":5200},
      {"d":"2019-05-05","price":5800},{"d":"2019-05-12","price":7000},{"d":"2019-05-16","price":7900},{"d":"2019-05-19","price":8200},
      {"d":"2019-05-26","price":8700},{"d":"2019-06-02","price":8700},{"d":"2019-06-09","price":7700},{"d":"2019-06-16","price":9000},
      {"d":"2019-06-22","price":10700},{"d":"2019-06-26","price":12900},{"d":"2019-06-30","price":10800},{"d":"2019-07-07","price":11400},
      {"d":"2019-07-10","price":12100},{"d":"2019-07-16","price":9450},{"d":"2019-07-21","price":10600},{"d":"2019-07-28","price":9500},
      {"d":"2019-08-04","price":10800},{"d":"2019-08-06","price":11800},{"d":"2019-08-11","price":11400},{"d":"2019-08-15","price":10300},
      {"d":"2019-08-25","price":10100},{"d":"2019-09-01","price":9600},{"d":"2019-09-08","price":10400},{"d":"2019-09-15","price":10300},
      {"d":"2019-09-22","price":10000},{"d":"2019-09-24","price":8500},{"d":"2019-09-29","price":8100},{"d":"2019-10-06","price":7900},
      {"d":"2019-10-13","price":8300},{"d":"2019-10-20","price":8200},{"d":"2019-10-23","price":7450},{"d":"2019-10-26","price":9250},
      {"d":"2019-11-03","price":9200},{"d":"2019-11-10","price":9050},{"d":"2019-11-17","price":8500},{"d":"2019-11-22","price":7300},
      {"d":"2019-11-25","price":7050},{"d":"2019-12-01","price":7420},{"d":"2019-12-08","price":7500},{"d":"2019-12-17","price":6650},
      {"d":"2019-12-22","price":7500},{"d":"2019-12-29","price":7350},{"d":"2020-01-05","price":7750},{"d":"2020-01-12","price":8200},
      {"d":"2020-01-19","price":8700},{"d":"2020-01-26","price":8600},{"d":"2020-02-02","price":9350},{"d":"2020-02-09","price":10150},
      {"d":"2020-02-13","price":10350},{"d":"2020-02-16","price":9900},{"d":"2020-02-23","price":9950},{"d":"2020-03-01","price":8550},
      {"d":"2020-03-08","price":8050},{"d":"2020-03-12","price":4950},{"d":"2020-03-16","price":5000},{"d":"2020-03-22","price":5850},
      {"d":"2020-03-29","price":5900},{"d":"2020-04-05","price":6780},{"d":"2020-04-12","price":6900},{"d":"2020-04-19","price":7150},
      {"d":"2020-04-26","price":7700},{"d":"2020-04-30","price":8650},{"d":"2020-05-07","price":10000},{"d":"2020-05-10","price":8750},
      {"d":"2020-05-17","price":9650},{"d":"2020-05-24","price":8800},{"d":"2020-05-31","price":9450},{"d":"2020-06-07","price":9750},
      {"d":"2020-06-14","price":9400},{"d":"2020-06-21","price":9300},{"d":"2020-06-28","price":9100},{"d":"2020-07-05","price":9100},
      {"d":"2020-07-12","price":9300},{"d":"2020-07-19","price":9200},{"d":"2020-07-26","price":9950},{"d":"2020-08-02","price":11100},
      {"d":"2020-08-09","price":11700},{"d":"2020-08-16","price":11900},{"d":"2020-08-23","price":11650},{"d":"2020-08-30","price":11700},
      {"d":"2020-09-03","price":10200},{"d":"2020-09-06","price":10250},{"d":"2020-09-13","price":10330},{"d":"2020-09-20","price":10900},
      {"d":"2020-09-27","price":10800},{"d":"2020-10-04","price":10700},{"d":"2020-10-11","price":11400},{"d":"2020-10-18","price":11500},
      {"d":"2020-10-21","price":12800},{"d":"2020-10-25","price":13100},{"d":"2020-11-01","price":13700},{"d":"2020-11-05","price":15600},
      {"d":"2020-11-08","price":15500},{"d":"2020-11-15","price":15950},{"d":"2020-11-22","price":18400},{"d":"2020-11-26","price":17100},
      {"d":"2020-11-29","price":18200},{"d":"2020-12-06","price":19150},{"d":"2020-12-13","price":19250},{"d":"2020-12-17","price":22800},
      {"d":"2020-12-20","price":23500},{"d":"2020-12-27","price":26300},{"d":"2020-12-31","price":29000},{"d":"2021-01-03","price":32800},
      {"d":"2021-01-08","price":40500},{"d":"2021-01-11","price":35500},{"d":"2021-01-14","price":39200},{"d":"2021-01-17","price":36000},
      {"d":"2021-01-22","price":33000},{"d":"2021-01-27","price":30400},{"d":"2021-01-31","price":33100},{"d":"2021-02-04","price":36900},
      {"d":"2021-02-08","price":46400},{"d":"2021-02-14","price":48700},{"d":"2021-02-21","price":57500},{"d":"2021-02-28","price":45200},
      {"d":"2021-03-07","price":51200},{"d":"2021-03-13","price":61200},{"d":"2021-03-21","price":57300},{"d":"2021-03-25","price":51700},
      {"d":"2021-03-28","price":55800},{"d":"2021-04-04","price":58700},{"d":"2021-04-13","price":63500},{"d":"2021-04-18","price":56200},
      {"d":"2021-04-25","price":49000},{"d":"2021-05-02","price":56600},{"d":"2021-05-09","price":58200},{"d":"2021-05-12","price":49700},
      {"d":"2021-05-16","price":46400},{"d":"2021-05-19","price":37000},{"d":"2021-05-23","price":34700},{"d":"2021-05-30","price":35600},
      {"d":"2021-06-06","price":35800},{"d":"2021-06-13","price":39100},{"d":"2021-06-20","price":35500},{"d":"2021-06-22","price":32500},
      {"d":"2021-06-27","price":34700},{"d":"2021-07-04","price":35300},{"d":"2021-07-11","price":34200},{"d":"2021-07-20","price":29800},
      {"d":"2021-07-25","price":35400},{"d":"2021-07-31","price":41500},{"d":"2021-08-07","price":44600},{"d":"2021-08-14","price":47000},
      {"d":"2021-08-23","price":49500},{"d":"2021-08-29","price":48800},{"d":"2021-09-06","price":51700},{"d":"2021-09-07","price":46800},
      {"d":"2021-09-13","price":44900},{"d":"2021-09-21","price":40600},{"d":"2021-09-28","price":41000},{"d":"2021-10-03","price":48200},
      {"d":"2021-10-10","price":54700},{"d":"2021-10-16","price":60900},{"d":"2021-10-20","price":65900},{"d":"2021-10-24","price":61000},
      {"d":"2021-10-31","price":61300},{"d":"2021-11-08","price":67500},{"d":"2021-11-10","price":64900},{"d":"2021-11-14","price":65000},
      {"d":"2021-11-18","price":56900},{"d":"2021-11-21","price":58700},{"d":"2021-11-28","price":57200},{"d":"2021-12-04","price":49400},
      {"d":"2021-12-11","price":49300},{"d":"2021-12-19","price":46700},{"d":"2021-12-26","price":50800},{"d":"2021-12-31","price":46300},
      {"d":"2022-01-07","price":41700},{"d":"2022-01-10","price":41800},{"d":"2022-01-17","price":43100},{"d":"2022-01-22","price":35100},
      {"d":"2022-01-24","price":36700},{"d":"2022-01-31","price":38500},{"d":"2022-02-07","price":44000},{"d":"2022-02-14","price":42600},
      {"d":"2022-02-21","price":37000},{"d":"2022-02-24","price":38300},{"d":"2022-02-28","price":43200},{"d":"2022-03-02","price":44400},
      {"d":"2022-03-07","price":38000},{"d":"2022-03-14","price":39700},{"d":"2022-03-21","price":41200},{"d":"2022-03-28","price":47100},
      {"d":"2022-04-04","price":46600},{"d":"2022-04-11","price":39500},{"d":"2022-04-18","price":40800},{"d":"2022-04-25","price":40400},
      {"d":"2022-05-02","price":38500},{"d":"2022-05-05","price":36500},{"d":"2022-05-09","price":30100},{"d":"2022-05-12","price":29000},
      {"d":"2022-05-16","price":29800},{"d":"2022-05-23","price":29100},{"d":"2022-05-30","price":31800},{"d":"2022-06-06","price":31400},
      {"d":"2022-06-10","price":29100},{"d":"2022-06-12","price":26600},{"d":"2022-06-13","price":22500},{"d":"2022-06-14","price":22100},
      {"d":"2022-06-16","price":20400},{"d":"2022-06-18","price":19000}
    ],
    "notes": [
      {"label":"Bear 2018-2019","pct":"-3,5%","cx":"2018-12-16","cy":-0.03286,"tx":"2018-09-02","ty":-0.03851,"py":-0.0428,"u1":"2018-04-05","u2":"2019-01-31","uy":-0.03942},
      {"label":"Crash du COVID","pct":"-3,0%","cx":"2020-04-05","cy":-0.0293,"tx":"2020-04-05","ty":-0.03513,"py":-0.03914,"u1":"2019-11-06","u2":"2020-09-03","uy":-0.0359},
      {"label":"Juin 2021","pct":"-1,2%","cx":"2021-06-10","cy":-0.01143,"tx":"2021-06-10","ty":-0.01786,"py":-0.02205,"u1":"2021-03-11","u2":"2021-09-09","uy":-0.01865},
      {"label":"Juin 2022","pct":"-1,5%","cx":"2022-05-29","cy":-0.01569,"tx":"2022-05-29","ty":-0.02197,"py":-0.02606,"u1":"2022-02-24","u2":"2022-08-31","uy":-0.02284}
    ],
    "majorGrid": [
      {"g": -0.03}, {"g": -0.02}, {"g": -0.01}, {"g": 0}, {"g": 0.01}, {"g": 0.02}, {"g": 0.03}, {"g": 0.04}
    ],
    "minorGrid": [
      {"g": -0.038}, {"g": -0.036}, {"g": -0.034}, {"g": -0.032}, {"g": -0.028}, {"g": -0.026}, {"g": -0.024}, {"g": -0.022},
      {"g": -0.018}, {"g": -0.016}, {"g": -0.014}, {"g": -0.012}, {"g": -0.008}, {"g": -0.006}, {"g": -0.004}, {"g": -0.002},
      {"g": 0.002}, {"g": 0.004}, {"g": 0.006}, {"g": 0.008}, {"g": 0.012}, {"g": 0.014}, {"g": 0.016}, {"g": 0.018},
      {"g": 0.022}, {"g": 0.024}, {"g": 0.026}, {"g": 0.028}, {"g": 0.032}, {"g": 0.034}, {"g": 0.036}, {"g": 0.038},
      {"g": 0.042}, {"g": 0.044}
    ]
  },
  "layer": [
    {
      "layer": [
        {
          "data": {"name": "bands"},
          "transform": [{"fold": ["p1", "p2", "p3", "p4", "p5", "n1", "n2", "n3"], "as": ["band", "v"]}],
          "mark": {"type": "area", "interpolate": "linear", "opacity": 1},
          "encoding": {
            "x": {
              "field": "d", "type": "temporal", "title": null,
              "scale": {"type": "utc", "domain": [{"year": 2017, "month": 3, "date": 18, "hours": 12, "utc": true}, {"year": 2022, "month": 9, "date": 16, "hours": 14, "utc": true}]},
              "axis": {
                "values": [{"year": 2018, "month": 1, "date": 1, "utc": true}, {"year": 2019, "month": 1, "date": 1, "utc": true}, {"year": 2020, "month": 1, "date": 1, "utc": true}, {"year": 2021, "month": 1, "date": 1, "utc": true}, {"year": 2022, "month": 1, "date": 1, "utc": true}],
                "format": "%Y", "tickSize": 7, "labelPadding": 9, "grid": false
              }
            },
            "y": {
              "field": "v", "type": "quantitative", "stack": "zero",
              "title": "Profit and Loss [% Market Cap]",
              "scale": {"domain": [-0.03956, 0.0445], "nice": false, "zero": false},
              "axis": {
                "values": [-0.03, -0.02, -0.01, 0, 0.01, 0.02, 0.03, 0.04],
                "format": ".2f",
                "labelOverlap": false,
                "labelPadding": 11,
                "tickSize": 7,
                "grid": false,
                "titleFont": "DejaVu Sans", "titleFontSize": 36, "titleFontWeight": "normal", "titleColor": "#000000", "titlePadding": 18
              }
            },
            "color": {
              "field": "band", "type": "nominal",
              "scale": {
                "domain": ["p5", "p4", "p3", "p2", "p1", "n1", "n2", "n3", "n4"],
                "range": ["#5a9fcb", "#6fb3c4", "#86cbb5", "#9dd6b1", "#b8e3b3", "#fdbd7e", "#fa8a6a", "#dd5f6d", "#ae2d61"]
              },
              "legend": {
                "orient": "none", "legendX": 12, "legendY": 12, "title": null,
                "labelExpr": "datum.label == 'p5' ? '> 1000%' : datum.label == 'p4' ? '500 to 1000%' : datum.label == 'p3' ? '100 to 500%' : datum.label == 'p2' ? '50 to 100%' : datum.label == 'p1' ? '0 to 50%' : datum.label == 'n1' ? '-20 to 0%' : datum.label == 'n2' ? '-50 to -20%' : datum.label == 'n3' ? '-80 to -50%' : '< -80%'",
                "symbolType": "M-1,-0.36H1V0.36H-1Z", "symbolSize": 2025, "symbolStrokeWidth": 0, "symbolOpacity": 1,
                "labelFont": "DejaVu Sans", "labelFontSize": 21, "labelColor": "#000000", "labelOffset": 21,
                "rowPadding": 1, "padding": 9,
                "fillColor": "rgba(255,255,255,0.8)", "strokeColor": "#cccccc", "cornerRadius": 5
              }
            },
            "order": {"field": "band", "sort": "ascending"}
          }
        },
        {
          "data": {"values": [{"t": "glassnode"}]},
          "mark": {"type": "text", "font": "Inter", "fontSize": 168, "fontWeight": 600, "color": "#7d7d7d", "opacity": 0.45, "align": "center", "baseline": "alphabetic"},
          "encoding": {
            "text": {"field": "t"},
            "x": {"datum": {"year": 2019, "month": 12, "date": 19, "utc": true}, "type": "temporal"},
            "y": {"datum": -0.00355}
          }
        },
        {
          "data": {"name": "minorGrid"},
          "mark": {"type": "rule", "color": "#e8e8e8", "strokeWidth": 1.4},
          "encoding": {"y": {"field": "g", "type": "quantitative"}}
        },
        {
          "data": {"name": "majorGrid"},
          "mark": {"type": "rule", "color": "#d9d9d9", "strokeWidth": 2},
          "encoding": {"y": {"field": "g", "type": "quantitative"}}
        },
        {
          "data": {"values": [{"t": "Based on data from 2022-06-18"}]},
          "mark": {"type": "text", "font": "Inter", "fontSize": 28, "color": "#8c8c8c", "align": "left", "baseline": "alphabetic"},
          "encoding": {
            "text": {"field": "t"},
            "x": {"datum": {"year": 2017, "month": 3, "date": 18, "hours": 12, "utc": true}, "type": "temporal"},
            "y": {"datum": -0.04867}
          }
        },
        {
          "data": {"values": [{"t": "© 2022 Glassnode. All Rights Reserved."}]},
          "mark": {"type": "text", "font": "Inter", "fontSize": 28, "color": "#8c8c8c", "align": "right", "baseline": "alphabetic"},
          "encoding": {
            "text": {"field": "t"},
            "x": {"datum": {"year": 2022, "month": 9, "date": 16, "hours": 14, "utc": true}, "type": "temporal"},
            "y": {"datum": -0.04867}
          }
        },
        {
          "data": {"name": "notes"},
          "mark": {"type": "point", "shape": "circle", "size": 1662, "filled": true, "opacity": 1, "fill": "#f8085d", "fillOpacity": 0.16, "stroke": "#f8085d", "strokeOpacity": 1, "strokeWidth": 2, "strokeDash": [5, 4]},
          "encoding": {
            "x": {"field": "cx", "type": "temporal"},
            "y": {"field": "cy", "type": "quantitative"}
          }
        },
        {
          "data": {"name": "notes"},
          "mark": {"type": "rule", "color": "#f8085d", "strokeWidth": 3},
          "encoding": {
            "x": {"field": "u1", "type": "temporal"},
            "x2": {"field": "u2"},
            "y": {"field": "uy", "type": "quantitative"}
          }
        },
        {
          "data": {"name": "notes"},
          "mark": {"type": "text", "font": "Inter", "fontSize": 32, "fontWeight": 700, "color": "#f8085d", "align": "center", "baseline": "alphabetic"},
          "encoding": {
            "text": {"field": "label"},
            "x": {"field": "tx", "type": "temporal"},
            "y": {"field": "ty", "type": "quantitative"}
          }
        },
        {
          "data": {"name": "notes"},
          "mark": {"type": "text", "font": "Inter", "fontSize": 32, "fontWeight": 700, "color": "#f8085d", "align": "center", "baseline": "alphabetic"},
          "encoding": {
            "text": {"field": "pct"},
            "x": {"field": "tx", "type": "temporal"},
            "y": {"field": "py", "type": "quantitative"}
          }
        }
      ]
    },
    {
      "data": {"name": "price"},
      "mark": {"type": "line", "color": "#000000", "strokeWidth": 2.2},
      "encoding": {
        "x": {
          "field": "d", "type": "temporal", "title": null,
          "scale": {"type": "utc", "domain": [{"year": 2017, "month": 3, "date": 18, "hours": 12, "utc": true}, {"year": 2022, "month": 9, "date": 16, "hours": 14, "utc": true}]}
        },
        "y": {
          "field": "price", "type": "quantitative", "title": null,
          "scale": {"type": "log", "domain": [1598, 80600], "nice": false},
          "axis": {
            "orient": "right",
            "values": [2000, 3000, 4000, 5000, 6000, 7000, 8000, 9000, 10000, 20000, 30000, 40000, 50000, 60000, 70000],
            "labelExpr": "datum.value == 10000 ? '$10k' : ''",
            "labelOverlap": false,
            "tickSize": {"condition": {"test": "datum.value != 10000", "value": 5}, "value": 8},
            "labelPadding": 9,
            "grid": false
          }
        }
      }
    }
  ],
  "resolve": {"scale": {"y": "independent"}}
}
